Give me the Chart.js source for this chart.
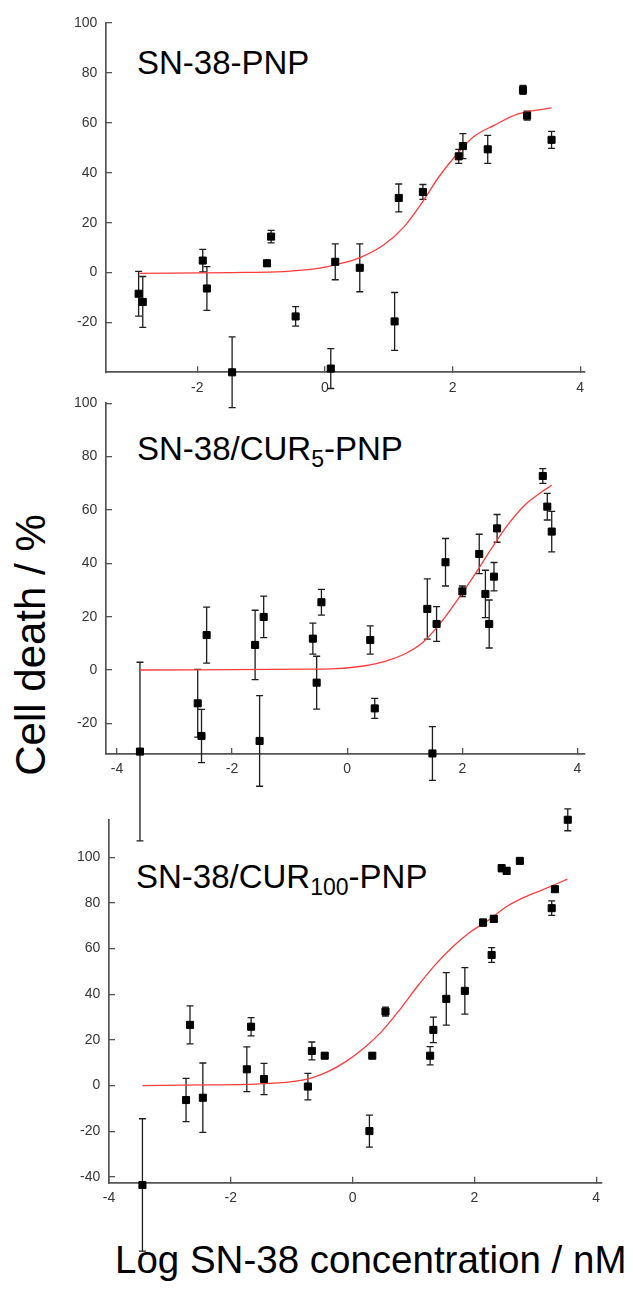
<!DOCTYPE html>
<html>
<head>
<meta charset="utf-8">
<script src="https://cdn.jsdelivr.net/npm/chart.js@4.4.1/dist/chart.umd.min.js"></script>
<style>
  html, body { margin: 0; padding: 0; background: #fff; }
  body { width: 633px; height: 1291px; position: relative; overflow: hidden;
         font-family: 'Liberation Sans', Arial, sans-serif; }
  canvas { position: absolute; left: 0; }
  .ptitle { position: absolute; font-size: 33px; line-height: 33px; color: #000; white-space: nowrap; }
  .ptitle sub { font-size: 23px; line-height: 0; vertical-align: -7px; }
  .ytitle { position: absolute; left: 31px; top: 645px; font-size: 42px; line-height: 42px;
            white-space: nowrap; transform: translate(-50%, -50%) rotate(-90deg); }
  .xtitle { position: absolute; left: 115px; top: 1240px; font-size: 38.5px; line-height: 39px; white-space: nowrap; }
</style>
</head>
<body>
<div class="ptitle" style="left:137px; top:46px;">SN-38-PNP</div>
<div class="ptitle" style="left:137px; top:432px;">SN-38/CUR<sub>5</sub>-PNP</div>
<div class="ptitle" style="left:136px; top:860px;">SN-38/CUR<sub>100</sub>-PNP</div>
<div class="ytitle">Cell death / %</div>
<div class="xtitle">Log SN-38 concentration / nM</div>

<script>
// ---- tick labels ----
const xTickValues = [-4, -2, 0, 2, 4];
const yTicksTop = [-20, 0, 20, 40, 60, 80, 100];
const yTicksMid = [-20, 0, 20, 40, 60, 80, 100];
const yTicksBottom = [-40, -20, 0, 20, 40, 60, 80, 100];

// ---- SN-38-PNP ----
const pnpLogC = [-2.919, -2.854, -1.914, -1.849, -1.454, -0.908, -0.843, -0.459, 0.092, 0.162,
                 0.546, 1.092, 1.157, 1.535, 2.097, 2.162, 2.551, 3.103, 3.168, 3.551];
const pnpDeath = [-8.5, -11.8, 4.8, -6.4, -40, 3.7, 14.4, -17.6, -38.5, 4.3,
                  1.9, -19.6, 29.9, 32.3, 46.6, 50.7, 49.4, 73.2, 62.9, 53.2];
const pnpErr = [9, 10.2, 4.5, 8.8, 14.2, 1.2, 2.5, 3.9, 8, 7.2,
                9.6, 11.6, 5.6, 3, 2.8, 5, 5.6, 1.8, 1.8, 3.4];
const pnpFitLogC = [-2.908, -1.459, -0.649, -0.108, 0.162, 0.541, 0.919, 1.243, 1.514, 1.784,
                    2.054, 2.324, 2.649, 3.027, 3.551];
const pnpFitDeath = [-0.3, 0, 0.4, 1.7, 3.1, 5.9, 11, 18.4, 27.7, 38.3,
                     47, 54.3, 59, 63.6, 66];

// ---- SN-38/CUR5-PNP ----
const cur5LogC = [-3.6, -2.597, -2.531, -2.442, -1.6, -1.522, -1.451, -0.597, -0.531, -0.448,
                  0.4, 0.478, 1.391, 1.48, 1.552, 1.707, 2.0, 2.293, 2.4, 2.466,
                  2.549, 2.603, 3.397, 3.475, 3.552];
const cur5Death = [-30.6, -12.5, -24.75, 13.1, 9.4, -26.6, 19.9, 11.75, -4.75, 25.4,
                   11.25, -14.4, 22.9, -31.3, 17.25, 40.4, 29.5, 43.5, 28.5, 17.25,
                   35, 53.1, 72.75, 61.25, 51.9];
const cur5Err = [33.5, 12.7, 10, 10.5, 13, 17, 7.8, 5.8, 9.9, 4.8,
                 5.3, 3.75, 11.3, 10.1, 6.5, 8.9, 2, 7.4, 8.9, 9,
                 5.3, 5.2, 2.75, 5, 7.6];
const cur5FitLogC = [-3.6, -0.675, -0.197, 0.281, 0.699, 0.997, 1.296, 1.594, 1.893, 2.191,
                     2.49, 2.788, 3.087, 3.385, 3.552];
const cur5FitDeath = [0, 0.3, 0.5, 1.5, 3.5, 6, 10, 16.9, 25.6, 35,
                      45, 54.4, 61.9, 66.9, 69.25];

// ---- SN-38/CUR100-PNP ----
const cur100LogC = [-3.451, -2.735, -2.670, -2.459, -1.737, -1.667, -1.455, -0.734, -0.669, -0.458,
                    0.276, 0.323, 0.540, 1.273, 1.326, 1.538, 1.843, 2.142, 2.283, 2.318,
                    2.447, 2.529, 2.746, 3.269, 3.322, 3.533];
const cur100Death = [-43.5, -6.3, 26.6, -5.3, 7.15, 25.8, 2.9, -0.4, 15.2, 13.1,
                     -19.9, 13.1, 32.4, 13.1, 24.4, 38, 41.5, 71.4, 57.2, 73,
                     95.2, 94, 98.4, 77.7, 86, 116.4];
const cur100Err = [29, 9.5, 8.3, 15.2, 9.8, 4, 6.8, 5.8, 3.9, 1,
                   7, 1, 2, 4, 5.6, 11.5, 10.2, 1.5, 3.2, 1.5,
                   1.5, 1.5, 1, 3.2, 1, 4.8];
const cur100FitLogC = [-3.451, -2.459, -1.579, -0.992, -0.698, -0.405, -0.112, 0.182, 0.475, 0.769,
                       1.062, 1.356, 1.649, 1.942, 2.236, 2.529, 2.823, 3.116, 3.527];
const cur100FitDeath = [0, 0.3, 0.7, 1.75, 3.2, 6.1, 10.5, 16.35, 23.65, 33.1,
                        43.4, 52.85, 60.9, 67.45, 72.55, 78.4, 82.5, 85.7, 90.4];

const FONT = "'Liberation Sans', Arial, sans-serif";
const AXIS_COLOR = '#555555';
const LABEL_COLOR = '#363636';

// vertical error bars, drawn through the chart's own scales
const errorBarPlugin = {
  id: 'errorBars',
  beforeDatasetsDraw(chart) {
    const ds = chart.data.datasets[1];
    const errs = ds.errors;
    const xs = chart.scales.x, ys = chart.scales.y;
    const ctx = chart.ctx;
    ctx.save();
    ctx.strokeStyle = '#1e1e1e';
    ctx.lineWidth = 1.3;
    ds.data.forEach((p, i) => {
      const e = errs[i];
      if (!e) return;
      const px = xs.getPixelForValue(p.x);
      const top = ys.getPixelForValue(p.y + e);
      const bot = ys.getPixelForValue(p.y - e);
      ctx.beginPath();
      ctx.moveTo(px, top); ctx.lineTo(px, bot);
      ctx.moveTo(px - 3.5, top); ctx.lineTo(px + 3.5, top);
      ctx.moveTo(px - 3.5, bot); ctx.lineTo(px + 3.5, bot);
      ctx.stroke();
    });
    ctx.restore();
  }
};

function pairs(xs, ys) { return xs.map((x, i) => ({ x: x, y: ys[i] })); }

function makePanel(p) {
  const canvas = document.createElement('canvas');
  canvas.width = 633; canvas.height = p.height;
  canvas.style.width = '633px'; canvas.style.height = p.height + 'px';
  canvas.style.top = p.top + 'px';
  document.body.appendChild(canvas);

  const tickFont = { family: FONT, size: 14 };
  new Chart(canvas, {
    type: 'scatter',
    data: {
      datasets: [
        {
          type: 'line',
          data: pairs(p.fitX, p.fitY),
          borderColor: '#ff3c3c',
          borderWidth: 1.3,
          pointRadius: 0,
          cubicInterpolationMode: 'monotone',
          fill: false,
          order: 2,
          clip: false
        },
        {
          data: pairs(p.x, p.y),
          errors: p.err,
          pointStyle: 'rect',
          pointRadius: 5,
          backgroundColor: '#000',
          borderColor: '#000',
          borderWidth: 1,
          order: 1,
          clip: false
        }
      ]
    },
    options: {
      responsive: false,
      animation: false,
      devicePixelRatio: 1,
      events: [],
      layout: { autoPadding: false, padding: p.padding },
      plugins: { legend: { display: false }, tooltip: { enabled: false } },
      scales: {
        x: {
          type: 'linear',
          min: p.xMin, max: p.xMax,
          afterFit(s) { s.height = 30; },
          afterBuildTicks(s) {
            s.ticks = xTickValues.filter(v => v >= p.xMin && v <= p.xMax).map(v => ({ value: v }));
          },
          grid: { drawOnChartArea: false, drawTicks: true, tickLength: -6, color: AXIS_COLOR, lineWidth: 1.3 },
          border: { display: true, color: AXIS_COLOR, width: 1.7 },
          ticks: { padding: 13, color: LABEL_COLOR, font: tickFont, maxRotation: 0, autoSkip: false,
                   callback: v => String(v) }
        },
        y: {
          type: 'linear',
          min: p.yMin, max: p.yMax,
          afterFit(s) { s.width = 60; },
          afterBuildTicks(s) { s.ticks = p.yTicks.map(v => ({ value: v })); },
          grid: { drawOnChartArea: false, drawTicks: true, tickLength: -6, color: AXIS_COLOR, lineWidth: 1.3 },
          border: { display: true, color: AXIS_COLOR, width: 1.7 },
          ticks: { padding: 14.7, color: LABEL_COLOR, font: tickFont, autoSkip: false,
                   callback: v => String(v) }
        }
      }
    },
    plugins: [errorBarPlugin]
  });
}

makePanel({
  top: 0, height: 420,
  padding: { left: 46, right: 48, top: 21.7, bottom: 17.7 },
  xMin: -3.43, xMax: 4.075, yMin: -40, yMax: 100, yTicks: yTicksTop,
  x: pnpLogC, y: pnpDeath, err: pnpErr, fitX: pnpFitLogC, fitY: pnpFitDeath
});
makePanel({
  top: 380, height: 470,
  padding: { left: 46, right: 48, top: 23.3, bottom: 66 },
  xMin: -4.19, xMax: 4.13, yMin: -31.5, yMax: 100, yTicks: yTicksMid,
  x: cur5LogC, y: cur5Death, err: cur5Err, fitX: cur5FitLogC, fitY: cur5FitDeath
});
makePanel({
  top: 790, height: 501,
  padding: { left: 49, right: 31.3, top: 30, bottom: 78.3 },
  xMin: -4.0, xMax: 4.09, yMin: -42.5, yMax: 116.3, yTicks: yTicksBottom,
  x: cur100LogC, y: cur100Death, err: cur100Err, fitX: cur100FitLogC, fitY: cur100FitDeath
});
</script>
</body>
</html>
